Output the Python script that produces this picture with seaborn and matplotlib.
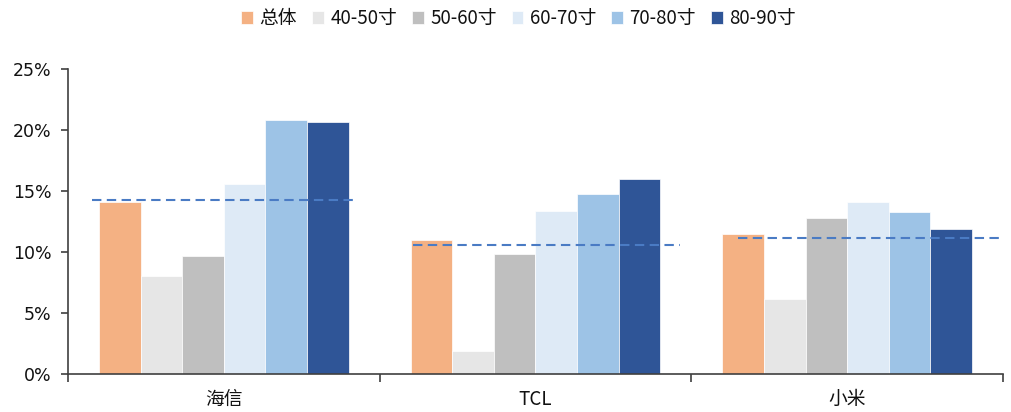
import matplotlib
matplotlib.use("Agg")
import matplotlib.pyplot as plt
from matplotlib.ticker import FuncFormatter, FixedLocator
import pandas as pd
import seaborn as sns

# Brands on the x axis
brands = ["海信", "TCL", "小米"]
# Screen-size segments (legend order)
segments = ["总体", "40-50寸", "50-60寸", "60-70寸", "70-80寸", "80-90寸"]
# Share values (%) per segment, one value per brand
share_total = [14.1, 11.0, 11.5]
share_40_50 = [8.0, 1.9, 6.15]
share_50_60 = [9.65, 9.85, 12.75]
share_60_70 = [15.55, 13.4, 14.1]
share_70_80 = [20.8, 14.75, 13.25]
share_80_90 = [20.65, 16.0, 11.9]
# Reference level drawn as a dashed line per brand (%)
reference_level = [14.25, 10.6, 11.15]

seg_colors = ["#F4B183", "#E6E6E6", "#BFBFBF", "#DEEAF6", "#9DC3E6", "#2F5597"]
line_color = "#4A7BC4"
# horizontal extent of each dashed line, in category units around the brand
line_span = [(-0.423, 0.43), (-0.393, 0.464), (-0.351, 0.5)]

series = [share_total, share_40_50, share_50_60, share_60_70, share_70_80, share_80_90]
rows = []
for seg, vals in zip(segments, series):
    for b, v in zip(brands, vals):
        rows.append({"brand": b, "segment": seg, "share": v / 100})
df = pd.DataFrame(rows)

sns.set_theme(style="white")
plt.rcParams["font.family"] = ["Noto Sans CJK SC", "DejaVu Sans"]

fig = plt.figure(figsize=(10.11, 4.12), dpi=100)
ax = fig.add_axes([0.0673, 0.0922, 0.9247, 0.7403])

sns.barplot(
    data=df, x="brand", y="share", hue="segment",
    order=brands, hue_order=segments, palette=seg_colors,
    saturation=1, width=0.8, edgecolor="white", linewidth=0.5,
    errorbar=None, ax=ax,
)

for i, lvl in enumerate(reference_level):
    x0, x1 = line_span[i]
    ax.plot([i + x0, i + x1], [lvl / 100, lvl / 100], color=line_color,
            lw=1.5, dashes=(4.5, 2.6), solid_capstyle="butt", zorder=5)

ax.set_xlim(-0.5, 2.5)
ax.set_ylim(0, 0.25)
ax.set_yticks([0, 0.05, 0.10, 0.15, 0.20, 0.25])
ax.yaxis.set_major_formatter(FuncFormatter(lambda v, p: f"{v * 100:.0f}%"))
for lab in ax.get_yticklabels():
    lab.set_fontfamily("DejaVu Sans")
    lab.set_fontsize(12.5)
    lab.set_color("#111111")

ax.set_xlabel("")
ax.set_ylabel("")
ax.tick_params(axis="x", which="major", length=0, pad=11, labelsize=13.5, labelcolor="#111111")
ax.xaxis.set_minor_locator(FixedLocator([-0.5, 0.5, 1.5, 2.5]))
ax.tick_params(axis="x", which="minor", length=6, width=1.2, color="#404040", direction="out")
ax.tick_params(axis="y", length=5, width=1.2, color="#404040", direction="out", pad=7)
ax.tick_params(left=True, bottom=True, which="both")

sns.despine(ax=ax, top=True, right=True)
for s in ("left", "bottom"):
    ax.spines[s].set_color("#404040")
    ax.spines[s].set_linewidth(1.2)

handles, labels = ax.get_legend_handles_labels()
ax.get_legend().remove()
leg = fig.legend(handles, labels, loc="center", bbox_to_anchor=(0.513, 0.955), ncol=6,
                 frameon=False, fontsize=13.5, handlelength=0.62, handleheight=0.62,
                 handletextpad=0.35, columnspacing=0.8)
for t in leg.get_texts():
    t.set_color("#111111")

fig.savefig("out.png", dpi=100)
